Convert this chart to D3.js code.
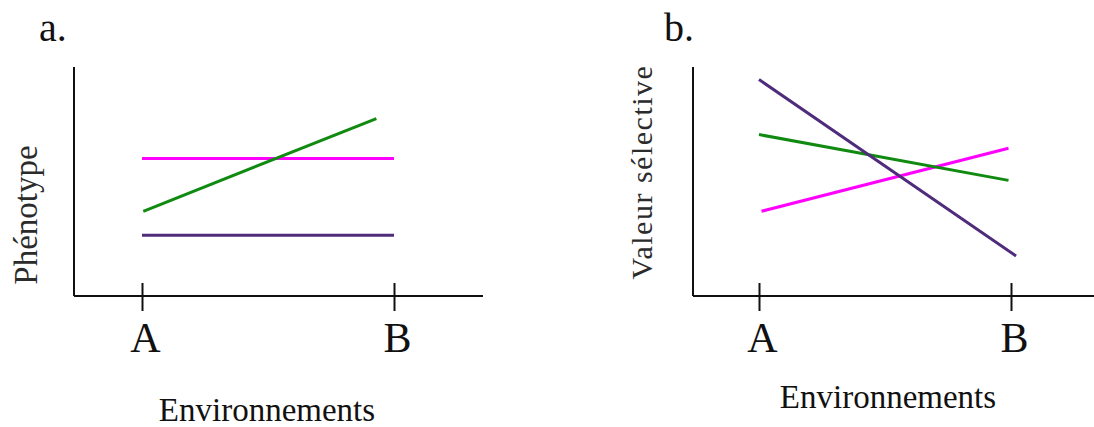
<!DOCTYPE html>
<html>
<head>
<meta charset="utf-8">
<script src="https://cdn.jsdelivr.net/npm/d3@7"></script>
<style>
  body { margin: 0; background: #fff; }
</style>
</head>
<body>
<svg width="1094" height="427"></svg>
<script>
// environments on the x axis (A = 0, B = 1)
const envValues = [0, 1];
const envLabels = ['A', 'B'];

// panel a : phenotype (arbitrary units 0-10)
const phenoMagentaX = [0, 1];
const phenoMagenta = [6.0, 6.0];
const phenoPurpleX = [0, 1];
const phenoPurple = [2.65, 2.65];
const phenoGreenX = [0.005, 0.93];
const phenoGreen = [3.7, 7.75];

// panel b : valeur sélective (arbitrary units 0-10)
const fitPurpleX = [0, 1.02];
const fitPurple = [9.45, 1.75];
const fitGreenX = [0, 0.99];
const fitGreen = [7.05, 5.05];
const fitMagentaX = [0.01, 0.99];
const fitMagenta = [3.7, 6.45];

const colors = { magenta: '#ff00ff', green: '#108a10', purple: '#4f2b7c' };
const serif = '"Liberation Serif", "Times New Roman", Times, serif';

const svg = d3.select('svg');

function panel(opts) {
  const g = svg.append('g');
  const xScale = d3.scaleLinear().domain([0, 1]).range([opts.x0, opts.x1]);
  const yScale = d3.scaleLinear().domain([0, 10]).range([296, 67]);

  // axis lines (the frame extends past the A/B range)
  g.append('line')
    .attr('x1', opts.left).attr('x2', opts.left)
    .attr('y1', yScale(10)).attr('y2', yScale(0))
    .attr('stroke', '#111').attr('stroke-width', 2);
  g.append('line')
    .attr('x1', opts.left).attr('x2', opts.right)
    .attr('y1', yScale(0)).attr('y2', yScale(0))
    .attr('stroke', '#111').attr('stroke-width', 2);

  const xAxis = d3.axisBottom(xScale)
    .tickValues(envValues)
    .tickFormat((d, i) => envLabels[i])
    .tickSize(15)
    .tickSizeOuter(0);

  const ax = g.append('g')
    .attr('transform', `translate(0,${yScale(0)})`)
    .call(xAxis);
  ax.attr('font-family', serif);
  ax.select('.domain').remove();
  ax.selectAll('.tick line')
    .attr('y1', -13)
    .attr('stroke', '#111')
    .attr('stroke-width', 2);
  ax.selectAll('.tick text')
    .attr('y', 56).attr('dy', 0).attr('dx', 3)
    .attr('fill', '#111')
    .attr('font-family', serif)
    .attr('font-size', 42);

  const line = d3.line()
    .x(d => xScale(d[0]))
    .y(d => yScale(d[1]));

  opts.series.forEach(s => {
    g.append('path')
      .datum(d3.zip(s.x, s.y))
      .attr('d', line)
      .attr('fill', 'none')
      .attr('stroke', s.color)
      .attr('stroke-width', 3);
  });

  // panel letter
  g.append('text')
    .attr('x', opts.letterX).attr('y', 41)
    .attr('fill', '#111')
    .attr('font-family', serif)
    .attr('font-size', 40)
    .text(opts.letter);

  // y label
  g.append('text')
    .attr('transform', `translate(${opts.yLabelX},${opts.yLabelY}) rotate(-90)`)
    .attr('text-anchor', 'middle')
    .attr('fill', '#2b2b2b')
    .attr('font-family', serif)
    .attr('font-size', opts.yLabelSize)
    .attr('letter-spacing', opts.yLabelSpacing)
    .text(opts.yLabel);

  // x label
  g.append('text')
    .attr('x', opts.xLabelX).attr('y', opts.xLabelY)
    .attr('text-anchor', 'middle')
    .attr('fill', '#111')
    .attr('font-family', serif)
    .attr('font-size', 33)
    .text('Environnements');
}

panel({
  left: 74, right: 483, x0: 142, x1: 394,
  letter: 'a.', letterX: 39,
  yLabel: 'Phénotype', yLabelX: 37, yLabelY: 215, yLabelSize: 33, yLabelSpacing: 0,
  xLabelX: 267, xLabelY: 421,
  series: [
    { x: phenoMagentaX, y: phenoMagenta, color: colors.magenta },
    { x: phenoPurpleX, y: phenoPurple, color: colors.purple },
    { x: phenoGreenX, y: phenoGreen, color: colors.green }
  ]
});

panel({
  left: 693, right: 1094, x0: 759, x1: 1011,
  letter: 'b.', letterX: 664,
  yLabel: 'Valeur sélective', yLabelX: 652, yLabelY: 172, yLabelSize: 30, yLabelSpacing: 1.5,
  xLabelX: 888, xLabelY: 408,
  series: [
    { x: fitMagentaX, y: fitMagenta, color: colors.magenta },
    { x: fitGreenX, y: fitGreen, color: colors.green },
    { x: fitPurpleX, y: fitPurple, color: colors.purple }
  ]
});
</script>
</body>
</html>
